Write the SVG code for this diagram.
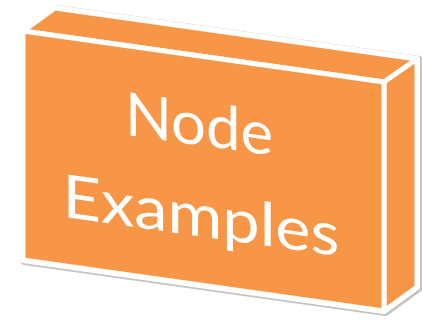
<svg xmlns="http://www.w3.org/2000/svg" width="422" height="320" viewBox="0 0 422 320">
  <style>
    .face { fill: #F79646; stroke: #FFFFFF; stroke-width: 5; stroke-linejoin: round; }
    .label { fill: #FFFFFF; font-family: Lato, "Open Sans", "Liberation Sans", sans-serif; font-size: 60px; text-anchor: middle; }
  </style>
  <rect width="422" height="320" fill="#FFFFFF"/>
  <g id="node-examples">
    <polygon points="23,31 55,8 417,59 417,287 384,311 23,260" transform="translate(1.5,1)" fill="#C4C4C4" stroke="#C4C4C4" stroke-width="8" stroke-linejoin="round"/>
    <polygon points="23,31 55,8 417,59 417,287 384,311 23,260" fill="#FFFFFF" stroke="#FFFFFF" stroke-width="6" stroke-linejoin="round"/>
    <polygon class="face" points="23,31 55,8 417,59 384,82"/>
    <polygon class="face" points="384,82 417,59 417,287 384,311"/>
    <polygon class="face" points="23,31 384,82 384,311 23,260"/>
    <g transform="matrix(1,0.1413,0,1,0,0)">
      <text class="label" x="199" y="117" textLength="148" lengthAdjust="spacingAndGlyphs">Node</text>
      <text class="label" x="201" y="208" textLength="277" lengthAdjust="spacingAndGlyphs">Examples</text>
    </g>
  </g>
</svg>
